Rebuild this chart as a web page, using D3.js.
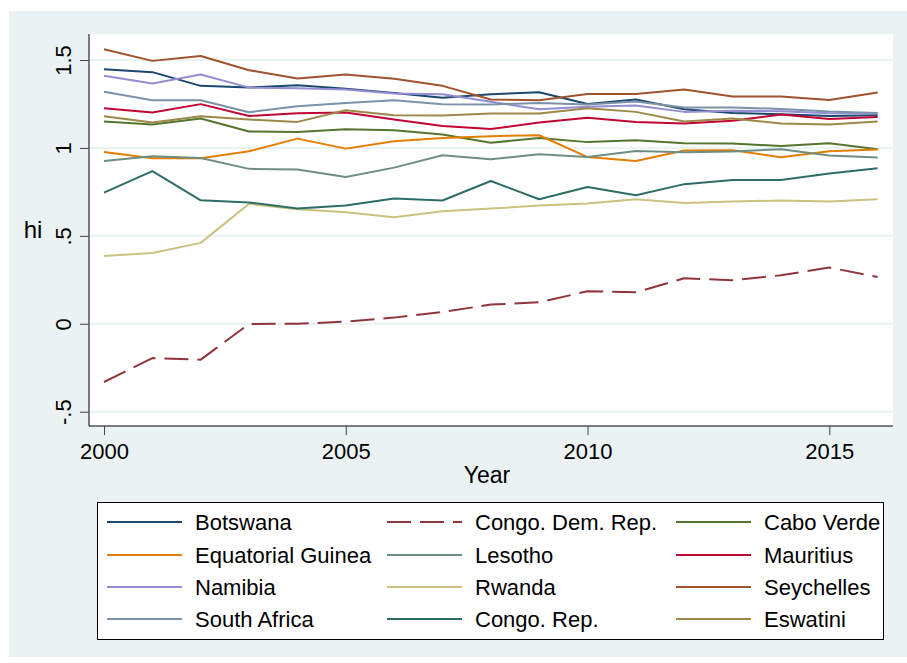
<!DOCTYPE html>
<html>
<head>
<meta charset="utf-8">
<script src="https://cdn.jsdelivr.net/npm/d3@7"></script>
<style>
  body { margin: 0; background: #fff; }
  text { font-family: "Liberation Sans", Arial, sans-serif; fill: #000; }
</style>
</head>
<body>
<script>
/* values */
var years = d3.range(2000, 2017)
var yTicks = [-0.5, 0, 0.5, 1, 1.5]
var yTickLabels = ["-.5", "0", ".5", "1", "1.5"]
var xTicks = [2000, 2005, 2010, 2015]

var countries = ["Botswana", "Congo. Dem. Rep.", "Cabo Verde",
                 "Equatorial Guinea", "Lesotho", "Mauritius",
                 "Namibia", "Rwanda", "Seychelles",
                 "South Africa", "Congo. Rep.", "Eswatini"]
var colors = ["#1A476F", "#90353B", "#55752F",
              "#E37E00", "#6E8E84", "#C10534",
              "#938DD2", "#CAC27E", "#A0522D",
              "#7B92A8", "#2D6D66", "#9C8847"]

var botswana   = [1.448, 1.431, 1.353, 1.343, 1.357, 1.337, 1.313, 1.285, 1.305, 1.317, 1.250, 1.275, 1.220, 1.199, 1.192, 1.182, 1.186]
var congoDem   = [-0.331, -0.195, -0.204, -0.001, 0.000, 0.012, 0.035, 0.067, 0.109, 0.122, 0.185, 0.179, 0.259, 0.247, 0.276, 0.320, 0.266]
var caboVerde  = [1.150, 1.133, 1.167, 1.093, 1.091, 1.106, 1.100, 1.076, 1.029, 1.057, 1.033, 1.044, 1.027, 1.025, 1.011, 1.027, 0.993]
var eqGuinea   = [0.977, 0.941, 0.941, 0.981, 1.053, 0.996, 1.038, 1.057, 1.067, 1.072, 0.948, 0.926, 0.985, 0.987, 0.947, 0.981, 0.991]
var lesotho    = [0.926, 0.953, 0.943, 0.881, 0.877, 0.835, 0.888, 0.958, 0.936, 0.964, 0.949, 0.983, 0.976, 0.979, 0.993, 0.957, 0.945]
var mauritius  = [1.226, 1.201, 1.249, 1.182, 1.197, 1.201, 1.161, 1.125, 1.108, 1.144, 1.171, 1.148, 1.139, 1.154, 1.190, 1.165, 1.176]
var namibia    = [1.410, 1.366, 1.418, 1.343, 1.340, 1.332, 1.309, 1.305, 1.262, 1.220, 1.234, 1.241, 1.205, 1.212, 1.209, 1.197, 1.196]
var rwanda     = [0.386, 0.403, 0.460, 0.682, 0.651, 0.634, 0.606, 0.640, 0.655, 0.672, 0.684, 0.708, 0.687, 0.695, 0.701, 0.695, 0.708]
var seychelles = [1.561, 1.495, 1.523, 1.442, 1.395, 1.418, 1.393, 1.353, 1.275, 1.271, 1.306, 1.306, 1.332, 1.292, 1.292, 1.273, 1.315]
var southAfr   = [1.319, 1.271, 1.271, 1.203, 1.237, 1.255, 1.271, 1.249, 1.247, 1.256, 1.247, 1.264, 1.230, 1.230, 1.222, 1.207, 1.199]
var congoRep   = [0.746, 0.868, 0.702, 0.690, 0.655, 0.672, 0.712, 0.701, 0.812, 0.708, 0.778, 0.731, 0.794, 0.818, 0.818, 0.854, 0.885]
var eswatini   = [1.180, 1.144, 1.180, 1.161, 1.148, 1.214, 1.186, 1.184, 1.196, 1.196, 1.226, 1.205, 1.150, 1.167, 1.139, 1.133, 1.150]

var seriesValues = [botswana, congoDem, caboVerde, eqGuinea, lesotho, mauritius,
                    namibia, rwanda, seychelles, southAfr, congoRep, eswatini]

function Margin(l, r, t, b) {
    this.left = l
    this.right = r
    this.top = t
    this.bottom = b
}

var width = 907
var height = 663
var plot = new Margin(89, 893, 34, 426)   // plot region edges

var svg = d3.select("body")
    .append("svg")
    .attr("width", width)
    .attr("height", height)

/* graph region background */
svg.append("rect")
    .attr("x", 9).attr("y", 11)
    .attr("width", width - 9).attr("height", 646)
    .attr("fill", "#EAF2F3")

/* plot region */
svg.append("rect")
    .attr("x", plot.left).attr("y", plot.top)
    .attr("width", plot.right - plot.left).attr("height", plot.bottom - plot.top)
    .attr("fill", "#fff")

var x = d3.scaleLinear()
    .domain([2000, 2015])
    .range([104, 829.3])

var y = d3.scaleLinear()
    .domain([-0.5, 1.5])
    .range([411.7, 60])

/* grid lines */
svg.append("g")
    .selectAll("line")
    .data(yTicks)
    .enter()
    .append("line")
    .attr("x1", plot.left).attr("x2", plot.right)
    .attr("y1", function(d) { return y(d) })
    .attr("y2", function(d) { return y(d) })
    .attr("stroke", "#EAF2F3")
    .attr("stroke-width", 2)

/* y axis */
var yAxis = d3.axisLeft(y)
    .tickValues(yTicks)
    .tickFormat(function(d, i) { return yTickLabels[i] })
    .tickSize(9)
    .tickPadding(0)

var gy = svg.append("g")
    .attr("transform", "translate(" + plot.left + ",0)")
    .call(yAxis)
gy.select(".domain")
    .attr("d", "M0," + plot.top + "V" + plot.bottom)
    .attr("stroke", "#000")
gy.selectAll(".tick line").attr("stroke", "#444")
gy.selectAll(".tick text")
    .attr("font-size", "22px")
    .attr("text-anchor", "middle")
    .attr("x", 0).attr("dy", 0)
    .attr("transform", "translate(-18,0) rotate(-90)")

/* x axis */
var xAxis = d3.axisBottom(x)
    .tickValues(xTicks)
    .tickFormat(d3.format("d"))
    .tickSize(9)
    .tickPadding(8)

var gx = svg.append("g")
    .attr("transform", "translate(0," + plot.bottom + ")")
    .call(xAxis)
gx.select(".domain")
    .attr("d", "M" + plot.left + ",0H" + plot.right)
    .attr("stroke", "#000")
gx.selectAll(".tick line").attr("stroke", "#444")
gx.selectAll(".tick text")
    .attr("font-size", "22px")
    .attr("dy", "0.71em")

/* axis titles */
svg.append("text")
    .attr("x", 487).attr("y", 483)
    .attr("text-anchor", "middle")
    .attr("font-size", "23px")
    .text("Year")

svg.append("text")
    .attr("x", 33).attr("y", 238)
    .attr("text-anchor", "middle")
    .attr("font-size", "24px")
    .text("hi")

/* the lines */
var line = d3.line()
    .x(function(d, i) { return x(years[i]) })
    .y(function(d) { return y(d) })

svg.append("g")
    .selectAll("path")
    .data(seriesValues)
    .enter()
    .append("path")
    .attr("d", line)
    .attr("fill", "none")
    .attr("stroke", function(d, i) { return colors[i] })
    .attr("stroke-width", 2)
    .attr("stroke-linejoin", "round")
    .attr("stroke-dasharray", function(d, i) { return i == 1 ? "24,9" : null })

/* legend */
svg.append("rect")
    .attr("x", 97.5).attr("y", 502.5)
    .attr("width", 786).attr("height", 137)
    .attr("fill", "#fff")
    .attr("stroke", "#000")
    .attr("stroke-width", 1)

var colX = [107, 387, 676]
var rowY = [522, 555, 587, 619]

var items = svg.append("g")
    .selectAll("g")
    .data(countries)
    .enter()
    .append("g")
    .attr("transform", function(d, i) {
        return "translate(" + colX[i % 3] + "," + rowY[Math.floor(i / 3)] + ")"
    })

items.append("line")
    .attr("x1", 0).attr("x2", 75)
    .attr("y1", 0).attr("y2", 0)
    .attr("stroke", function(d, i) { return colors[i] })
    .attr("stroke-width", 2)
    .attr("stroke-dasharray", function(d, i) { return i == 1 ? "24,9" : null })

items.append("text")
    .attr("x", 88).attr("y", 0)
    .attr("dy", "0.36em")
    .attr("font-size", "22px")
    .text(function(d) { return d })
</script>
</body>
</html>
